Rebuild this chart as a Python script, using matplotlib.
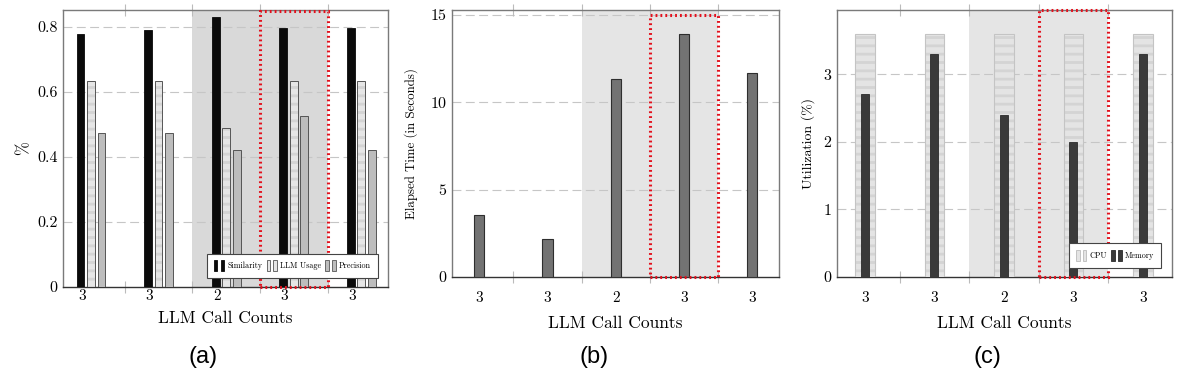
import numpy as np
import matplotlib
matplotlib.use("Agg")
import matplotlib.pyplot as plt
from matplotlib.patches import Rectangle, Patch
from matplotlib.legend_handler import HandlerTuple

# --- data --- #
call_counts = ["3", "3", "2", "3", "3"]

similarity = [0.776, 0.790, 0.830, 0.795, 0.795]
llm_usage = [0.633, 0.633, 0.487, 0.633, 0.633]
precision = [0.474, 0.474, 0.421, 0.526, 0.421]

elapsed = [3.54, 2.17, 11.32, 13.89, 11.66]

cpu = [3.6, 3.6, 3.6, 3.6, 3.6]
memory = [2.7, 3.3, 2.4, 2.0, 3.3]

yticks_a = [0, 0.2, 0.4, 0.6, 0.8]
yticks_b = [0, 5, 10, 15]
yticks_c = [0, 1, 2, 3]

# --- style --- #
plt.rcParams["font.family"] = ["cmr10", "DejaVu Serif"]
plt.rcParams["axes.formatter.use_mathtext"] = True
plt.rcParams["hatch.linewidth"] = 2.0

W, H = 1186, 383
fig = plt.figure(figsize=(W / 100, H / 100), dpi=100)


def px_axes(left, right, top, bottom):
	"""! @brief axes from pixel box """
	return fig.add_axes([left / W, (H - bottom) / H, (right - left) / W, (bottom - top) / H])


def style_axes(ax, xlim, ylim, yticks, shift, xpad, labelpad):
	"""! @brief frame, grid and ticks like the pgfplots look """
	x = np.arange(len(call_counts))
	ax.set_xlim(*xlim)
	ax.set_ylim(*ylim)
	ax.set_xticks(x, labels=call_counts, fontsize=11)
	ax.set_yticks(yticks, labels=[str(t) for t in yticks], fontsize=11.5)
	ax.set_xticks(x[:-1] + shift + 0.5, minor=True)
	ax.tick_params(axis="x", which="major", length=0, pad=xpad)
	ax.tick_params(axis="y", which="major", length=0, pad=4)
	ax.tick_params(axis="x", which="minor", length=8, direction="inout", color="#bbbbbb",
		top=True, bottom=True, width=0.8)
	for t in yticks[1:]:
		ax.axhline(t, color="#c6c6c6", lw=0.8, ls=(0, (8, 4)), zorder=1)
	for s in ax.spines.values():
		s.set_color("#7a7a7a")
		s.set_linewidth(1.0)
	ax.spines["bottom"].set_color("#333333")
	ax.set_xlabel("LLM Call Counts", fontsize=12.5, labelpad=labelpad)


def shade(ax, x0, x1, ylim, color):
	ax.add_patch(Rectangle((x0, ylim[0]), x1 - x0, ylim[1] - ylim[0], facecolor=color,
		edgecolor="none", zorder=0))


def red_box(ax, x0, x1, y0, y1):
	ax.add_patch(Rectangle((x0, y0), x1 - x0, y1 - y0, fill=False, edgecolor="#e3101c",
		lw=2.2, ls=(0, (0.6, 1.0)), zorder=6, clip_on=False))


def striped_bar(ax, x, h, w, face, stripe, edge, lw):
	ax.bar(x, h, w, color=face, edgecolor=stripe, hatch="--", linewidth=0, zorder=3)
	ax.bar(x, h, w, fill=False, edgecolor=edge, linewidth=lw, zorder=4)


def pair(face, edge, lw=0.6):
	return (Patch(facecolor=face, edgecolor=edge, lw=lw), Patch(facecolor=face, edgecolor=edge, lw=lw))


def bar_legend(ax, handles, labels, anchor):
	leg = ax.legend(handles, labels, handler_map={tuple: HandlerTuple(ndivide=None, pad=0.4)},
		ncol=len(labels), fontsize=5.8, loc="lower right", bbox_to_anchor=anchor, borderaxespad=0,
		fancybox=False, framealpha=1, edgecolor="#444444", handlelength=1.3, handleheight=1.7,
		handletextpad=0.4, columnspacing=0.5, borderpad=0.85)
	leg.get_frame().set_linewidth(0.8)
	leg.set_zorder(7)


x = np.arange(len(call_counts))

# --- (a) --- #
ax = px_axes(63, 388, 10, 287)
ylim_a = (0, 0.851)
shift_a = 0.135
shade(ax, 1 + shift_a + 0.5, 3 + shift_a + 0.5, ylim_a, "#d9d9d9")
ax.bar(x - 0.02, similarity, 0.115, color="#0a0a0a", edgecolor="#0a0a0a", lw=0.6, zorder=3)
striped_bar(ax, x + 0.135, llm_usage, 0.115, "#e6e6e6", "#d4d4d4", "#555555", 0.7)
ax.bar(x + 0.29, precision, 0.115, color="#bdbdbd", edgecolor="#555555", lw=0.7, zorder=3)
style_axes(ax, (-0.28, 4.53), ylim_a, yticks_a, shift_a, 1.5, 6)
red_box(ax, 2 + shift_a + 0.5, 3 + shift_a + 0.5, 0.0, 0.849)
ax.set_ylabel("%", fontsize=12, labelpad=4)
bar_legend(ax, [pair("#0a0a0a", "#0a0a0a"), pair("#e6e6e6", "#555555"), pair("#bdbdbd", "#555555")],
	["Similarity", "LLM Usage", "Precision"], (0.969, 0.032))
fig.text(203 / W, 1 - 357 / H, "(a)", fontsize=17, family="Liberation Sans", ha="center", va="center")

# --- (b) --- #
ax = px_axes(452, 779, 10, 277)
ylim_b = (0, 15.27)
shade(ax, 1.5, 3.5, ylim_b, "#e5e5e5")
ax.bar(x, elapsed, 0.15, color="#737373", edgecolor="#2e2e2e", lw=0.8, zorder=3)
style_axes(ax, (-0.40, 4.39), ylim_b, yticks_b, 0, 10, 8)
red_box(ax, 2.5, 3.5, 0.0, 15.0)
ax.set_ylabel("Elapsed Time (in Seconds)", fontsize=9.3, labelpad=9)
fig.text(594 / W, 1 - 357 / H, "(b)", fontsize=17, family="Liberation Sans", ha="center", va="center")

# --- (c) --- #
ax = px_axes(837, 1172, 10, 277)
ylim_c = (0, 3.95)
shade(ax, 1.5, 3.5, ylim_c, "#e5e5e5")
striped_bar(ax, x, cpu, 0.28, "#e4e4e4", "#d4d4d4", "#c4c4c4", 0.8)
ax.bar(x, memory, 0.12, color="#3a3a3a", edgecolor="#2a2a2a", lw=0.6, zorder=5)
style_axes(ax, (-0.40, 4.42), ylim_c, yticks_c, 0, 10, 8)
red_box(ax, 2.5, 3.5, 0.0, 3.95)
ax.set_ylabel("Utilization (%)", fontsize=10, labelpad=6)
bar_legend(ax, [pair("#e4e4e4", "#bbbbbb"), pair("#3a3a3a", "#2a2a2a")], ["CPU", "Memory"], (0.967, 0.034))
fig.text(987 / W, 1 - 357 / H, "(c)", fontsize=17, family="Liberation Sans", ha="center", va="center")

fig.savefig("out.png", dpi=100)
